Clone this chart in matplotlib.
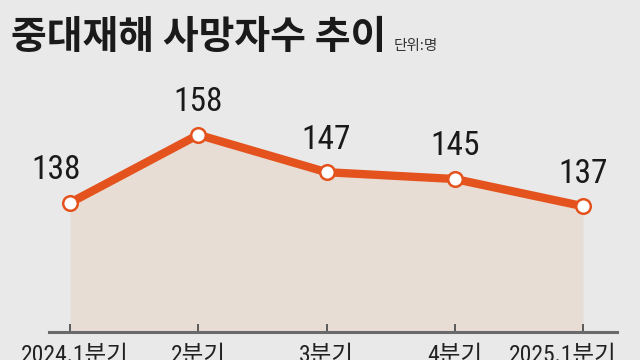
import matplotlib
matplotlib.use("Agg")
import matplotlib.pyplot as plt
from matplotlib.transforms import ScaledTranslation

categories = ["2024.1분기", "2분기", "3분기", "4분기", "2025.1분기"]
deaths = [138, 158, 147, 145, 137]
title = "중대재해 사망자수 추이"
unit = "단위:명"

BG = "#e9e9e9"
LINE = "#e4531d"
FILL = "#e8ddd5"
NUM_FONT = ["Roboto Condensed", "Noto Sans CJK KR"]
KR_FONT = ["Noto Sans CJK KR", "DejaVu Sans"]

fig = plt.figure(figsize=(6.4, 3.6), dpi=100, facecolor=BG)
ax = fig.add_axes([49/640, 1 - 332/360, 568/640, 272/360])
ax.set_facecolor(BG)

x = list(range(len(deaths)))
ax.fill_between(x, deaths, 100, color=FILL, linewidth=0, zorder=1)
ax.plot(x, deaths, color=LINE, linewidth=6, solid_joinstyle="miter", zorder=2)
ax.plot(x, deaths, linestyle="none", marker="o", markersize=10.5,
        markerfacecolor="white", markeredgecolor=LINE, markeredgewidth=1.8, zorder=3)

ax.set_xlim(-0.164, 4.265)
ax.set_ylim(100, 180)

for sp in ["top", "left", "right"]:
    ax.spines[sp].set_visible(False)
ax.spines["bottom"].set_color("#6a6a6a")
ax.spines["bottom"].set_linewidth(2.2)
ax.set_yticks([])
ax.set_xticks(x)
ax.tick_params(axis="x", direction="in", length=6, width=1.2, color="#444444", pad=9)
labels = ax.set_xticklabels(categories, fontsize=17, family=NUM_FONT, color="#222222")
offsets = [5, 0, 0, 0, -20]
for lab, dx in zip(labels, offsets):
    lab.set_transform(lab.get_transform() + ScaledTranslation(dx / 100, 0, fig.dpi_scale_trans))

label_dx = [-10, 0, 0, 0, 0]
for xi, v, dx in zip(x, deaths, label_dx):
    ax.annotate(str(v), (xi, v), xytext=(dx, 12), textcoords="offset points",
                ha="center", va="bottom", fontsize=24, family=NUM_FONT,
                color="#1a1a1a", zorder=4)

fig.text(11/640, 1 - 49/360, title, fontsize=28, family=KR_FONT, weight="bold",
         color="#1a1a1a", ha="left", va="baseline")
fig.text(394/640, 1 - 50/360, unit, fontsize=10.5, family=KR_FONT,
         color="#333333", ha="left", va="baseline")

fig.savefig("out.png", dpi=100, facecolor=BG)
